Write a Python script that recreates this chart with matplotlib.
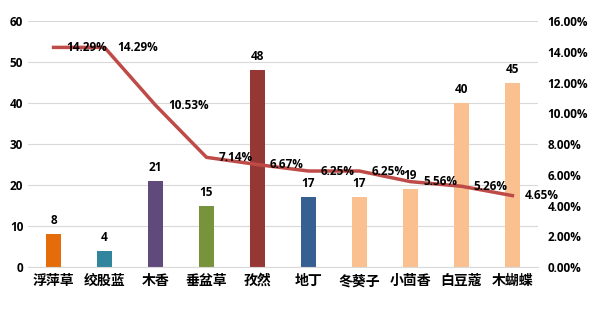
import matplotlib.pyplot as plt
import numpy as np

plt.rcParams["font.family"] = ["Noto Sans CJK SC", "DejaVu Sans"]
NUM_FONT = ["Open Sans", "DejaVu Sans"]

categories = ["浮萍草", "绞股蓝", "木香", "垂盆草", "孜然", "地丁", "冬葵子", "小茴香", "白豆蔻", "木蝴蝶"]
counts = [8, 4, 21, 15, 48, 17, 17, 19, 40, 45]
rates = [14.29, 14.29, 10.53, 7.14, 6.67, 6.25, 6.25, 5.56, 5.26, 4.65]
bar_colors = ["#E46C0A", "#31859C", "#604A7B", "#77933C", "#953735",
              "#376092", "#FAC090", "#FAC090", "#FAC090", "#FAC090"]

x = np.arange(len(categories))

fig = plt.figure(figsize=(5.97, 3.15), dpi=100)
ax = fig.add_axes([0.047, 0.152, 0.854, 0.781])
ax2 = ax.twinx()

ax.bar(x, counts, width=0.31, color=bar_colors, zorder=2)
for xi, v in zip(x, counts):
    ax.annotate(str(v), (xi, v), xytext=(0, 5), textcoords="offset points",
                ha="center", va="bottom", fontsize=8.5, fontweight="bold", family=NUM_FONT)

ax.set_xlim(-0.5, len(categories) - 0.5)
ax.set_ylim(0, 60)
ax.set_yticks(range(0, 61, 10))
ax.grid(axis="y", color="#D9D9D9", lw=0.8, zorder=0)
ax.set_axisbelow(True)
ax.set_xticks(x)
ax.set_xticklabels(categories, fontsize=10, fontweight="bold")
for s in ["top", "right", "left"]:
    ax.spines[s].set_visible(False)
ax.spines["bottom"].set_color("#D9D9D9")
ax.tick_params(length=0)
ax.tick_params(axis="x", pad=5)
for lab in ax.get_yticklabels():
    lab.set_fontweight("bold")
    lab.set_fontsize(8.5)
    lab.set_family(NUM_FONT)

ax2.plot(x, rates, color="#BE4B48", lw=2.5, zorder=3)
for xi, r in zip(x, rates):
    ax2.annotate(f"{r:.2f}%", (xi, r), xytext=(9, 0), textcoords="offset points",
                 ha="left", va="center", fontsize=8.5, fontweight="bold", family=NUM_FONT)
ax2.set_ylim(0, 16)
ax2.set_yticks(range(0, 17, 2))
ax2.set_yticklabels([f"{t:.2f}%" for t in range(0, 17, 2)], fontsize=8.5,
                    fontweight="bold", family=NUM_FONT)
for s in ax2.spines.values():
    s.set_visible(False)
ax2.tick_params(length=0, pad=7)

fig.savefig("out.png", dpi=100)
